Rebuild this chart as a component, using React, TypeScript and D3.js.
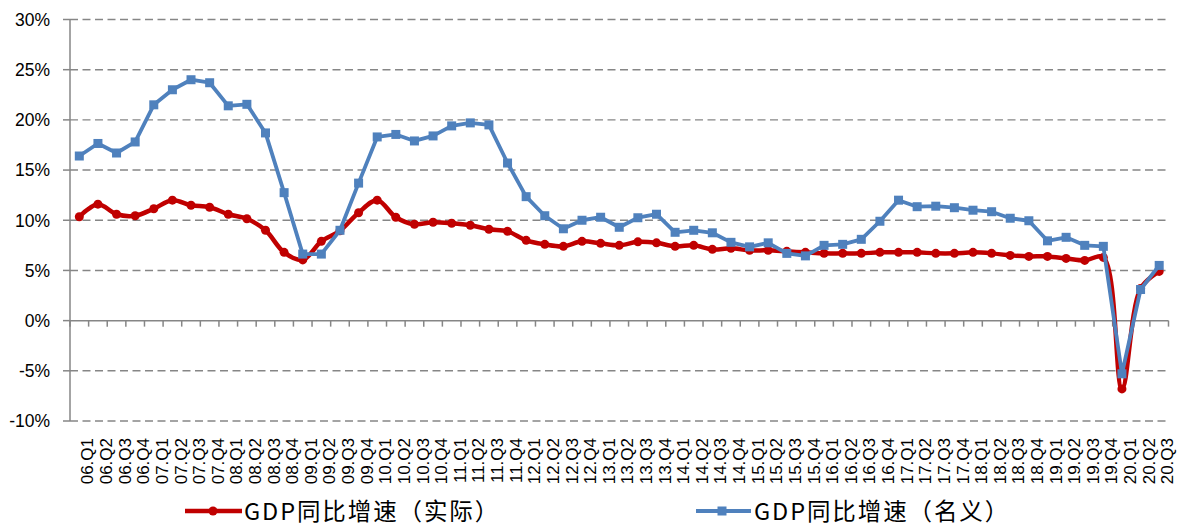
import React from "react";
import * as d3 from "d3";

const quarters: string[] = [
  "06.Q1","06.Q2","06.Q3","06.Q4","07.Q1","07.Q2","07.Q3","07.Q4",
  "08.Q1","08.Q2","08.Q3","08.Q4","09.Q1","09.Q2","09.Q3","09.Q4",
  "10.Q1","10.Q2","10.Q3","10.Q4","11.Q1","11.Q2","11.Q3","11.Q4",
  "12.Q1","12.Q2","12.Q3","12.Q4","13.Q1","13.Q2","13.Q3","13.Q4",
  "14.Q1","14.Q2","14.Q3","14.Q4","15.Q1","15.Q2","15.Q3","15.Q4",
  "16.Q1","16.Q2","16.Q3","16.Q4","17.Q1","17.Q2","17.Q3","17.Q4",
  "18.Q1","18.Q2","18.Q3","18.Q4","19.Q1","19.Q2","19.Q3","19.Q4",
  "20.Q1","20.Q2","20.Q3",
];

const realGrowth: number[] = [
  10.35, 11.6, 10.6, 10.45, 11.15, 12.0, 11.5, 11.3,
  10.6, 10.15, 9.0, 6.8, 6.05, 7.9, 8.95, 10.75,
  12.0, 10.3, 9.6, 9.8, 9.7, 9.5, 9.1, 8.9,
  8.0, 7.6, 7.4, 7.9, 7.7, 7.5, 7.85, 7.75,
  7.4, 7.5, 7.1, 7.2, 7.0, 7.0, 6.9, 6.8,
  6.7, 6.7, 6.7, 6.8, 6.8, 6.8, 6.7, 6.7,
  6.8, 6.7, 6.5, 6.4, 6.4, 6.2, 6.0, 6.3,
  -6.8, 3.2, 4.9,
];

const nominalGrowth: number[] = [
  16.4, 17.65, 16.7, 17.8, 21.5, 23.0, 24.0, 23.7,
  21.4, 21.55, 18.7, 12.75, 6.63, 6.63, 9.0, 13.7,
  18.3, 18.55, 17.9, 18.4, 19.4, 19.7, 19.5, 15.7,
  12.35, 10.45, 9.15, 10.0, 10.3, 9.3, 10.25, 10.6,
  8.8, 9.0, 8.75, 7.8, 7.35, 7.75, 6.7, 6.45,
  7.5, 7.6, 8.1, 9.9, 12.0, 11.35, 11.4, 11.25,
  11.0, 10.85, 10.2, 9.95, 7.95, 8.3, 7.5, 7.4,
  -5.3, 3.1, 5.5,
];

const yTicks: number[] = [-10, -5, 0, 5, 10, 15, 20, 25, 30];

const seriesNames: string[] = ["GDP同比增速（实际）", "GDP同比增速（名义）"];

const W = 1177;
const H = 527;
const left = 70;
const right = 1168.5;
const top = 19.5;
const bottom = 421;
const RED = "#C00000";
const BLUE = "#4F81BD";
const GRID = "#868686";

export default function App() {
  const x = d3.scaleBand<string>().domain(quarters).range([left, right]).padding(0);
  const bw = x.bandwidth();
  const cx = (q: string) => (x(q) as number) + bw / 2;
  const y = d3.scaleLinear().domain([-10, 30]).range([bottom, top]);

  const realLine = d3
    .line<number>()
    .x((_, i) => cx(quarters[i]))
    .y((d) => y(d))
    .curve(d3.curveCatmullRom.alpha(0.5));
  const nomLine = d3
    .line<number>()
    .x((_, i) => cx(quarters[i]))
    .y((d) => y(d))
    .curve(d3.curveLinear);

  const y0 = y(0);

  return (
    <svg
      width={W}
      height={H}
      style={{ position: "absolute", left: 0, top: 0, background: "#fff" }}
    >
      {yTicks
        .filter((t) => t !== 0)
        .map((t) => (
          <line
            key={"g" + t}
            x1={left}
            x2={right}
            y1={y(t)}
            y2={y(t)}
            stroke={GRID}
            strokeWidth={1.4}
            strokeDasharray="8,4.5"
          />
        ))}
      <line x1={left} x2={left} y1={top} y2={bottom} stroke={GRID} strokeWidth={1.5} />
      {yTicks.map((t) => (
        <line key={"yt" + t} x1={left - 7} x2={left} y1={y(t)} y2={y(t)} stroke={GRID} strokeWidth={1.5} />
      ))}
      {yTicks.map((t) => (
        <text
          key={"yl" + t}
          x={50}
          y={y(t)}
          dy="0.36em"
          textAnchor="end"
          fontFamily="'Liberation Sans', Arial, sans-serif"
          fontSize={17.5}
          fill="#000"
        >
          {t + "%"}
        </text>
      ))}
      <line x1={left} x2={right} y1={y0} y2={y0} stroke={GRID} strokeWidth={1.5} />
      {d3.range(quarters.length + 1).map((k) => (
        <line
          key={"xt" + k}
          x1={left + k * bw}
          x2={left + k * bw}
          y1={y0}
          y2={y0 + 6}
          stroke={GRID}
          strokeWidth={1.5}
        />
      ))}
      {quarters.map((q) => (
        <text
          key={"xl" + q}
          transform={`translate(${cx(q) + 8},438) rotate(-90)`}
          dy="0.36em"
          textAnchor="end"
          fontFamily="'Liberation Sans', Arial, sans-serif"
          fontSize={17}
          fill="#000"
        >
          {q}
        </text>
      ))}
      <path d={realLine(realGrowth) || ""} fill="none" stroke={RED} strokeWidth={4.5} strokeLinejoin="round" />
      {realGrowth.map((v, i) => (
        <circle key={"r" + i} cx={cx(quarters[i])} cy={y(v)} r={4.5} fill={RED} />
      ))}
      <path d={nomLine(nominalGrowth) || ""} fill="none" stroke={BLUE} strokeWidth={3.8} strokeLinejoin="round" />
      {nominalGrowth.map((v, i) => (
        <rect key={"n" + i} x={cx(quarters[i]) - 4.5} y={y(v) - 4.5} width={9} height={9} fill={BLUE} />
      ))}
      <line x1={185} x2={242} y1={511} y2={511} stroke={RED} strokeWidth={4.5} />
      <circle cx={213} cy={511} r={4.5} fill={RED} />
      <text
        x={244}
        y={520}
        fontFamily="'Noto Sans CJK SC', sans-serif"
        fontSize={23.5}
        letterSpacing={1.9}
        fill="#000"
      >
        {seriesNames[0]}
      </text>
      <line x1={696} x2={751} y1={511} y2={511} stroke={BLUE} strokeWidth={3.8} />
      <rect x={717.5} y={506.5} width={9} height={9} fill={BLUE} />
      <text
        x={754}
        y={520}
        fontFamily="'Noto Sans CJK SC', sans-serif"
        fontSize={23.5}
        letterSpacing={1.9}
        fill="#000"
      >
        {seriesNames[1]}
      </text>
    </svg>
  );
}
